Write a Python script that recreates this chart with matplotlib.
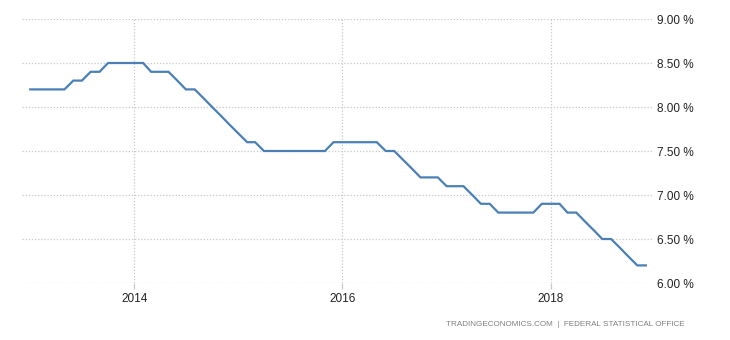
import matplotlib
matplotlib.use("Agg")
import matplotlib.pyplot as plt
import matplotlib.dates as mdates
import pandas as pd
import numpy as np

plt.rcParams['font.family'] = ['Liberation Sans', 'DejaVu Sans']

dates = pd.date_range("2013-01-01", periods=72, freq="MS")
rates = [8.2, 8.2, 8.2, 8.2, 8.2, 8.3, 8.3, 8.4, 8.4, 8.5,
         8.5, 8.5, 8.5, 8.5, 8.4, 8.4, 8.4, 8.3, 8.2, 8.2,
         8.1, 8.0, 7.9, 7.8, 7.7, 7.6, 7.6, 7.5, 7.5, 7.5,
         7.5, 7.5, 7.5, 7.5, 7.5, 7.6, 7.6, 7.6, 7.6, 7.6,
         7.6, 7.5, 7.5, 7.4, 7.3, 7.2, 7.2, 7.2, 7.1, 7.1,
         7.1, 7.0, 6.9, 6.9, 6.8, 6.8, 6.8, 6.8, 6.8, 6.9,
         6.9, 6.9, 6.8, 6.8, 6.7, 6.6, 6.5, 6.5, 6.4, 6.3,
         6.2, 6.2]
y_ticks = [6.0, 6.5, 7.0, 7.5, 8.0, 8.5, 9.0]
x_ticks = ["2014-01-01", "2016-01-01", "2018-01-01"]
source = "TRADINGECONOMICS.COM  |  FEDERAL STATISTICAL OFFICE"

fig = plt.figure(figsize=(7.3, 3.4), dpi=100)
ax = fig.add_axes([22/730, 1-283/340, (653-22)/730, (283-19)/340])

ax.plot(dates, rates, color="#4a80b6", linewidth=1.6, solid_joinstyle="miter")

ax.set_ylim(6.0, 9.0)
ax.set_xlim(pd.Timestamp("2012-12-03"), pd.Timestamp("2018-12-26"))
ax.set_yticks(y_ticks)
ax.set_yticklabels([f"{v:.2f} %" for v in y_ticks])
ax.set_xticks(pd.to_datetime(x_ticks))
ax.xaxis.set_major_formatter(mdates.DateFormatter("%Y"))

for s in ax.spines.values():
    s.set_visible(False)
ax.yaxis.tick_right()
ax.grid(True, color="#c8c8c8", linestyle=(0, (1, 1.5)), linewidth=0.9)
ax.tick_params(axis="y", length=0, pad=3, labelsize=8.5, labelcolor="#222222")
ax.tick_params(axis="x", length=4, width=0.9, color="#c8c8c8", pad=3,
               labelsize=8.5, labelcolor="#222222")

fig.text(685/730, 1-325/340, source, ha="right", va="center",
         fontsize=5.9, color="#808080")

fig.savefig("out.png", dpi=100)
